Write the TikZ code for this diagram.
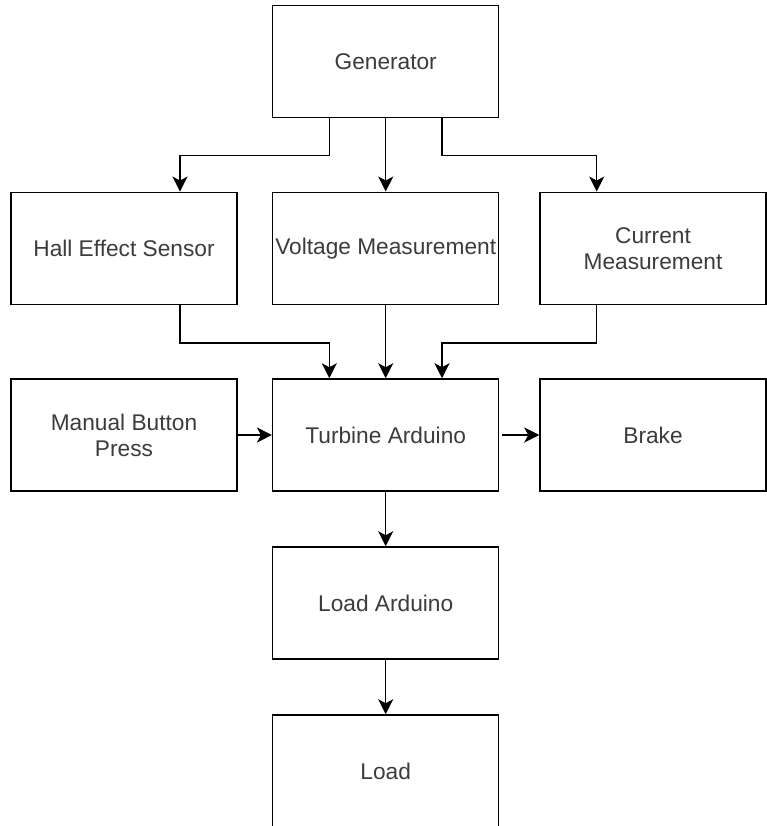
\documentclass[tikz,border=0pt]{standalone}
\usepackage{fontspec}
\setmainfont{Liberation Sans}
\usetikzlibrary{arrows.meta}
\definecolor{txt}{RGB}{60,60,60}
\begin{document}
\begin{tikzpicture}[x=1pt,y=-1pt,
  box/.style={draw=black,line width=1.5pt,fill=white,minimum width=226pt,minimum height=112pt,
    inner sep=0pt,align=center,text=txt,font=\fontsize{22.7}{26}\selectfont},
  arr/.style={draw=black,line width=1.5pt,-{Stealth[length=15pt,width=15pt,inset=4pt]}}]
\useasboundingbox (0,0) rectangle (767,826);
\node[box] (gen) at (385.7,61.7) {Generator};
\node[box] (hall) at (124,248.3) {Hall Effect Sensor};
\node[box] (volt) at (385.7,248.3) {Voltage Measurement};
\node[box] (cur) at (653,248.3) {Current\\Measurement};
\node[box] (man) at (124,435) {Manual Button\\Press};
\node[box] (tur) at (385.7,435) {Turbine Arduino};
\node[box] (brk) at (653,435) {Brake};
\node[box] (lard) at (385.7,603) {Load Arduino};
\node[box] (load) at (385.7,771) {Load};
\draw[arr] ([xshift=-56.4pt]gen.south) -- ++(0,37.3) -| ([xshift=56pt]hall.north);
\draw[arr] (gen.south) -- (volt.north);
\draw[arr] ([xshift=56.3pt]gen.south) -- ++(0,37.3) -| ([xshift=-56.3pt]cur.north);
\draw[arr] ([xshift=56pt]hall.south) -- ++(0,38) -| ([xshift=-56.4pt]tur.north);
\draw[arr] (volt.south) -- (tur.north);
\draw[arr] ([xshift=-56.3pt]cur.south) -- ++(0,38) -| ([xshift=56.3pt]tur.north);
\draw[arr] (man.east) -- (tur.west);
\draw[arr, shorten <=3pt] (tur.east) -- (brk.west);
\draw[arr] (tur.south) -- (lard.north);
\draw[arr] (lard.south) -- (load.north);
\end{tikzpicture}
\end{document}
